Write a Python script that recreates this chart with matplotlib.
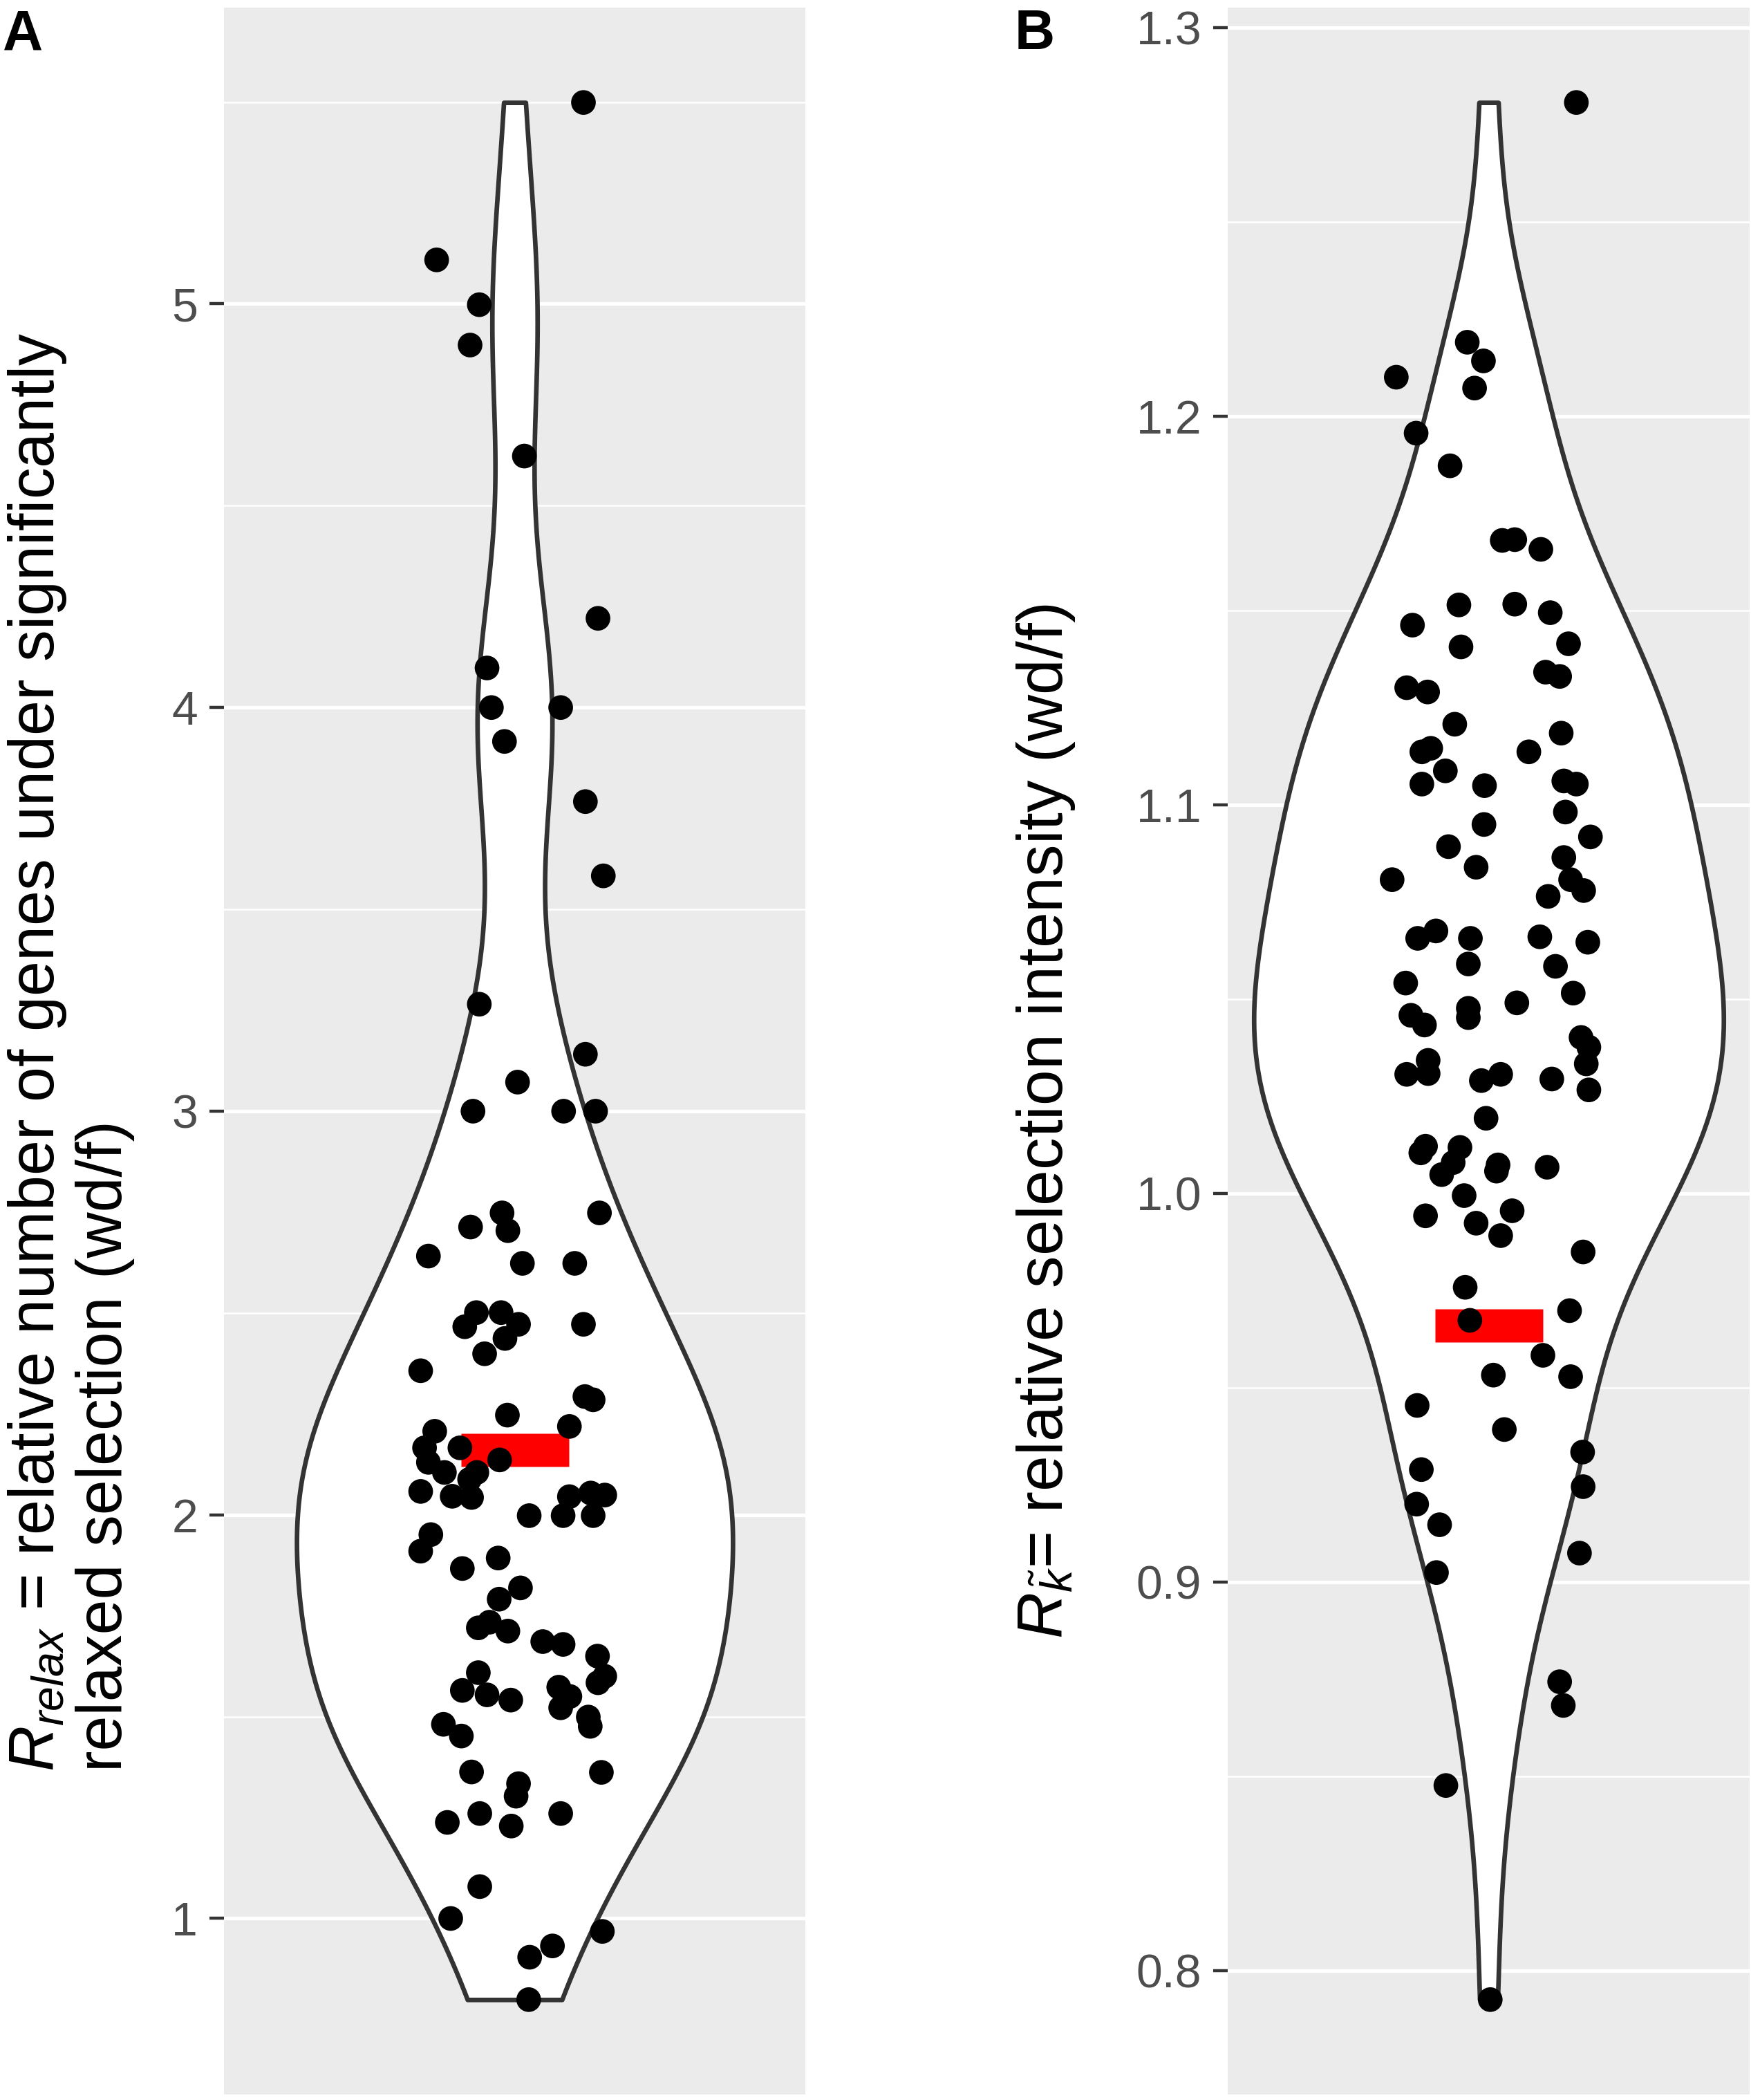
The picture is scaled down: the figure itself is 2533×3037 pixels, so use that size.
import numpy as np
import matplotlib
matplotlib.use("Agg")
import matplotlib.pyplot as plt
from matplotlib.ticker import FixedLocator, FixedFormatter

plt.rcParams["font.family"] = ["Liberation Sans", "DejaVu Sans"]
plt.rcParams["mathtext.fontset"] = "custom"
plt.rcParams["mathtext.rm"] = "Liberation Sans"
plt.rcParams["mathtext.it"] = "Liberation Sans:italic"

# Panel A: R_relax values and their horizontal jitter (offset from centre)
a_y = [5.499, 5.109, 4.998, 4.898, 4.623, 4.221, 4.098,
       4.00, 4.00, 3.916, 3.767, 3.583, 3.265, 3.141, 3.072, 3.00, 3.00, 3.00,
       2.748, 2.748, 2.713, 2.704, 2.641, 2.623, 2.623, 2.501, 2.501, 2.466,
       2.472, 2.472, 2.437, 2.399, 2.357,
       2.293, 2.285, 2.247, 2.207, 2.219, 2.166, 2.166, 2.130, 2.136, 2.105,
       2.105, 2.088, 2.058, 2.046, 2.043, 2.045, 2.054, 2.049, 1.998, 1.998,
       1.998, 1.951, 1.910, 1.893, 1.867, 1.819, 1.791, 1.734, 1.720, 1.712,
       1.686, 1.679, 1.650, 1.609, 1.600, 1.584, 1.565, 1.554, 1.573, 1.550,
       1.541, 1.522, 1.499, 1.481, 1.476, 1.452, 1.363, 1.362, 1.334, 1.303,
       1.260, 1.260, 1.238, 1.229, 1.079, 1.000, 0.968, 0.932, 0.904, 0.799]
a_dx = [0.142, -0.161, -0.073, -0.092, 0.020, 0.172, -0.057,
        -0.048, 0.095, -0.021, 0.146, 0.183, -0.073, 0.146, 0.006, -0.086, 0.101, 0.167,
        -0.026, 0.175, -0.091, -0.014, -0.178, 0.016, 0.124, -0.079, -0.028, -0.103,
        0.008, 0.142, -0.020, -0.062, -0.194,
        0.145, 0.162, -0.015, -0.165, 0.113, -0.186, -0.113, -0.178, -0.031, -0.145,
        -0.078, -0.093, -0.194, -0.129, -0.089, 0.113, 0.157, 0.186, 0.030, 0.100,
        0.162, -0.173, -0.194, -0.034, -0.108, 0.012, -0.032, -0.052, -0.075, -0.014,
        0.058, 0.100, 0.171, -0.075, 0.186, 0.172, -0.108, -0.057, 0.091, 0.114,
        -0.008, 0.095, 0.152, -0.147, 0.156, -0.110, -0.089, 0.179, 0.008, 0.003,
        -0.072, 0.095, -0.139, -0.007, -0.072, -0.132, 0.181, 0.078, 0.031, 0.029]
a_bar = 2.16
a_ticks = [1, 2, 3, 4, 5]

# Panel B: R_k~ values and jitter
b_y = [1.2807, 1.2190, 1.2142, 1.2100, 1.2072, 1.1956, 1.1872, 1.1680, 1.1682,
       1.1657, 1.1514, 1.1516, 1.1494, 1.1462, 1.1414, 1.1406, 1.1341, 1.1330,
       1.1301, 1.1290,
       1.1207, 1.1184, 1.1136, 1.1136, 1.1145, 1.1087, 1.1053, 1.1049, 1.1061,
       1.1053, 1.0981, 1.0949, 1.0917, 1.0892, 1.0864, 1.0839, 1.0807, 1.0807,
       1.0779, 1.0764, 1.0656, 1.0675, 1.0656, 1.0660, 1.0646, 1.0590, 1.0584,
       1.0541, 1.0515, 1.0490, 1.0476, 1.0452, 1.0458, 1.0433, 1.0401, 1.0376,
       1.0342, 1.0333, 1.0306, 1.0308, 1.0306, 1.0290, 1.0294, 1.0266, 1.0193,
       1.0121, 1.0104, 1.0118, 1.0079, 1.0073, 1.0057, 1.0048, 1.0067, 0.9994,
       0.9942, 0.9955, 0.9923, 0.9891, 0.9849, 0.9758, 0.9698, 0.9673, 0.9583,
       0.9532, 0.9528,
       0.9454, 0.9392, 0.9334, 0.9289, 0.9245, 0.9200, 0.9147, 0.9074, 0.9024,
       0.8743, 0.8682, 0.8476, 0.7925]
b_dx = [0.168, -0.041, -0.010, -0.177, -0.027, -0.139, -0.074, 0.026, 0.050,
        0.100, -0.057, 0.050, 0.118, -0.146, 0.153, -0.053, 0.109, 0.136,
        -0.157, -0.117,
        -0.065, 0.139, 0.077, -0.128, -0.111, -0.083, -0.128, -0.008, 0.144,
        0.168, 0.147, -0.009, 0.195, -0.077, 0.144, -0.024, -0.185, 0.157,
        0.182, 0.114, -0.136, -0.101, -0.035, 0.098, 0.190, -0.039, 0.128,
        -0.159, 0.162, 0.054, -0.039, -0.039, -0.149, -0.123, 0.177, 0.192,
        -0.116, 0.187, -0.157, -0.116, 0.023, -0.014, 0.121, 0.192, -0.005,
        -0.121, -0.130, -0.055, -0.068, 0.018, 0.015, -0.090, 0.112, -0.047,
        -0.121, 0.045, -0.024, 0.023, 0.181, -0.045, 0.155, -0.036, 0.104,
        0.009, 0.157,
        -0.137, 0.030, 0.180, -0.129, 0.181, -0.138, -0.094, 0.174, -0.100,
        0.136, 0.143, -0.082, 0.003]
b_bar = 0.966
b_ticks = [0.8, 0.9, 1.0, 1.1, 1.2, 1.3]

W, H = 2533, 3037
DPI = 200
fig = plt.figure(figsize=(W / DPI, H / DPI), dpi=DPI)

ax_a = fig.add_axes([324 / W, 1 - 3029 / H, 841 / W, 3018 / H])
ax_b = fig.add_axes([1776 / W, 1 - 3029 / H, 755 / W, 3018 / H])

bar_marker = [(-1, -0.3), (1, -0.3), (1, 0.3), (-1, 0.3), (-1, -0.3)]


def nrd0_factor(v):
    v = np.asarray(v)
    sd = v.std(ddof=1)
    iqr = np.subtract(*np.percentile(v, [75, 25]))
    bw = 0.9 * min(sd, iqr / 1.34) * len(v) ** -0.2
    return bw / sd


def panel(ax, ys, dxs, bar, ticks, fmt, xlim):
    ys = np.asarray(ys)
    xs = 1 + np.asarray(dxs)
    lo, hi = ys.min(), ys.max()
    pad = 0.05 * (hi - lo)
    ax.set_ylim(lo - pad, hi + pad)
    ax.set_xlim(*xlim)
    ax.set_facecolor("#EBEBEB")
    for s in ax.spines.values():
        s.set_visible(False)

    step = ticks[1] - ticks[0]
    minors = [t + step / 2 for t in [ticks[0] - step] + list(ticks)]
    minors = [m for m in minors if lo - pad < m < hi + pad]
    for m in minors:
        ax.axhline(m, color="white", lw=0.95, zorder=0.5)
    for t in ticks:
        ax.axhline(t, color="white", lw=1.9, zorder=0.6)

    vp = ax.violinplot([ys], positions=[1], widths=0.9, showextrema=False,
                       bw_method=nrd0_factor(ys), points=512)
    for body in vp["bodies"]:
        body.set_facecolor("white")
        body.set_edgecolor("#333333")
        body.set_linewidth(2.4)
        body.set_alpha(1)
        body.set_zorder(2)

    ax.plot([1], [bar], ls="none", marker=bar_marker, ms=56.5,
            color="red", mec="none", zorder=3)
    ax.scatter(xs, ys, s=165, color="black", edgecolors="none", zorder=4)

    ax.yaxis.set_major_locator(FixedLocator(ticks))
    ax.yaxis.set_major_formatter(FixedFormatter([fmt.format(t) for t in ticks]))
    ax.tick_params(axis="y", length=7.6, width=1.6, color="#333333",
                   labelcolor="#4D4D4D", labelsize=24.5, pad=6)
    ax.set_xticks([])


panel(ax_a, a_y, a_dx, a_bar, a_ticks, "{:g}", (0.4, 1.6))
panel(ax_b, b_y, b_dx, b_bar, b_ticks, "{:.1f}", (0.5, 1.5))

fig.text(9 / W, 1 - 2562 / H,
         "$R_{relax}$ = relative number of genes under significantly\n"
         "relaxed selection (wd/f)",
         rotation=90, ha="left", va="bottom", multialignment="left",
         fontsize=33, linespacing=1.15)
fig.text(1468 / W, 1 - 2370 / H,
         r"$R_{\tilde{k}}$= relative selection intensity (wd/f)",
         rotation=90, ha="left", va="bottom", fontsize=33.5)

fig.text(4 / W, 1 - 12 / H, "A", fontsize=29, fontweight="bold",
         ha="left", va="top")
fig.text(1468 / W, 1 - 12 / H, "B", fontsize=29, fontweight="bold",
         ha="left", va="top")

fig.savefig("out.png", dpi=DPI)
